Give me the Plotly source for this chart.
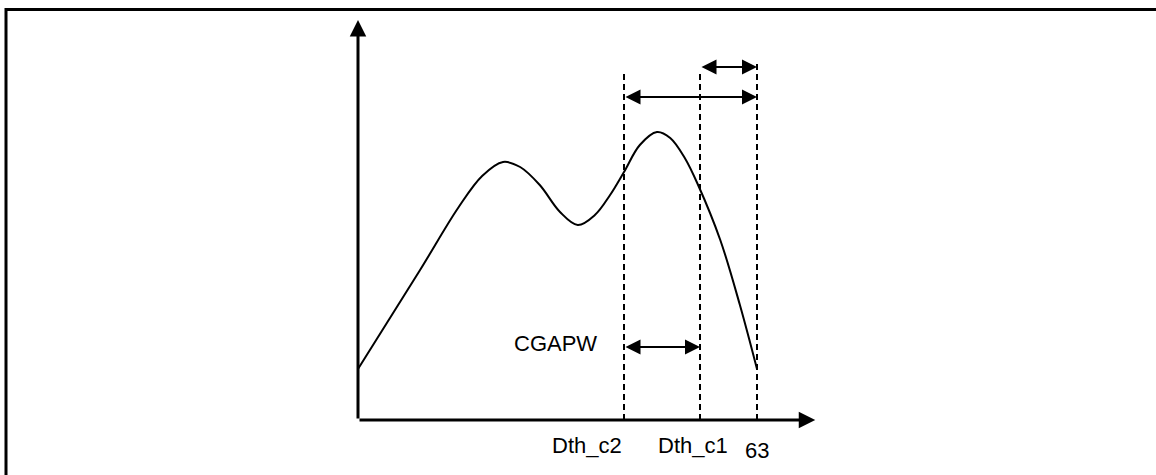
import plotly.graph_objects as go

# ---- data ----
curve_x = [0, 9.8, 15.8, 19.6, 22.9, 25.6, 28.7, 31.9, 34.7, 37.4, 39.8, 42.0, 44.5, 47.2, 49.3, 51.6, 53.7, 57.2, 60.3, 63.0]
curve_y = [12.75, 37.5, 53.0, 61.0, 64.5, 63.25, 58.75, 52.0, 48.75, 51.25, 56.25, 62.0, 68.75, 72.0, 70.5, 65.5, 58.75, 45.0, 28.75, 12.75]

marker_x = [42, 54, 63]              # Dth_c2, Dth_c1, 63
marker_top = [87, 87, 90]
tick_labels = ["Dth_c2", "Dth_c1", "63"]

# double arrows: (start, end, level)
span_start = [42, 54, 42]
span_end = [63, 63, 54]
span_level = [80.75, 88.25, 18.25]
gap_label = "CGAPW"

X_MAX_AXIS = 72.2
Y_MAX_AXIS = 100

W, H = 1156, 475
XR = [-3, 75]
YR = [-10, 102]
ML, MR, MT, MB = 339, 323, 12, 15

fig = go.Figure()

fig.add_trace(go.Scatter(
    x=curve_x, y=curve_y, mode="lines",
    line=dict(color="black", width=2, shape="spline", smoothing=1.0),
    hoverinfo="skip", showlegend=False))

for xv, top in zip(marker_x, marker_top):
    fig.add_trace(go.Scatter(
        x=[xv, xv], y=[0, top], mode="lines",
        line=dict(color="black", width=2, dash="6px,4px"),
        hoverinfo="skip", showlegend=False))

ann = []
# axes with arrows
ann.append(dict(x=0, y=Y_MAX_AXIS, ax=0, ay=0, xref="x", yref="y", axref="x", ayref="y",
                showarrow=True, arrowhead=2, arrowsize=1.1, arrowwidth=3, arrowcolor="black", text=""))
ann.append(dict(x=X_MAX_AXIS, y=0, ax=0, ay=0, xref="x", yref="y", axref="x", ayref="y",
                showarrow=True, arrowhead=2, arrowsize=1.1, arrowwidth=3, arrowcolor="black", text=""))
# double arrows
for s, e, lv in zip(span_start, span_end, span_level):
    ann.append(dict(x=e, y=lv, ax=s, ay=lv, xref="x", yref="y", axref="x", ayref="y",
                    showarrow=True, arrowhead=2, startarrowhead=2, arrowside="end+start",
                    arrowsize=1.5, startarrowsize=1.5, arrowwidth=2, arrowcolor="black", text=""))

font = dict(family="Liberation Sans, Arial, sans-serif", size=22, color="black")
ann.append(dict(x=marker_x[0], y=-6.25, xref="x", yref="y", text=tick_labels[0], showarrow=False,
                xanchor="right", yanchor="middle", font=font))
ann.append(dict(x=marker_x[1], y=-6.25, xref="x", yref="y", text=tick_labels[1], showarrow=False,
                xanchor="center", yanchor="middle", xshift=-7, font=font))
ann.append(dict(x=marker_x[2], y=-7.5, xref="x", yref="y", text=tick_labels[2], showarrow=False,
                xanchor="center", yanchor="middle", font=font))
ann.append(dict(x=span_start[2], y=span_level[2] + 1, xref="x", yref="y", text=gap_label, showarrow=False,
                xanchor="right", yanchor="middle", xshift=-25, font=font))

# outer frame (pixel positions converted to paper coordinates)
pw = W - ML - MR
ph = H - MT - MB
def px_to_paper_x(p):
    return (p - ML) / pw
def py_to_paper_y(p):
    return (H - MB - p) / ph

fig.add_shape(type="rect", xref="paper", yref="paper",
              x0=px_to_paper_x(6), x1=px_to_paper_x(1170),
              y0=py_to_paper_y(490), y1=py_to_paper_y(9.5),
              line=dict(color="black", width=3), fillcolor="rgba(0,0,0,0)")

fig.update_layout(
    width=W, height=H,
    margin=dict(l=ML, r=MR, t=MT, b=MB, pad=0),
    paper_bgcolor="white", plot_bgcolor="white",
    xaxis=dict(range=XR, visible=False, fixedrange=True),
    yaxis=dict(range=YR, visible=False, fixedrange=True),
    annotations=ann, showlegend=False,
)

fig.write_html("out.html", config={"displayModeBar": False},
               post_script="document.body.style.margin='0';document.body.style.overflow='hidden';")
